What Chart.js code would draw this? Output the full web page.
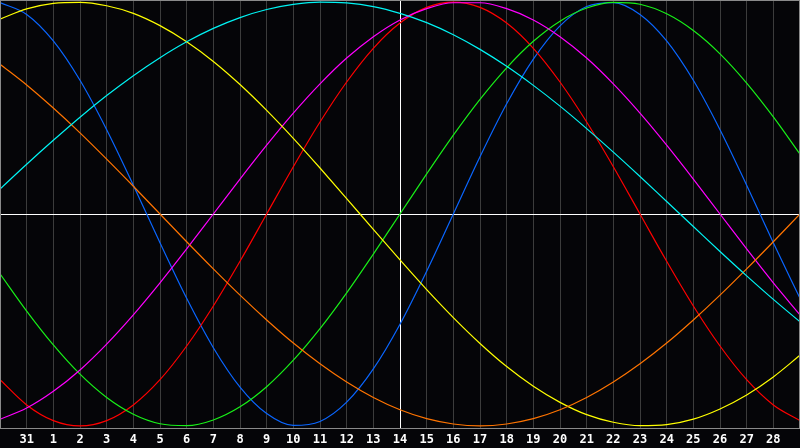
<!DOCTYPE html>
<html>
<head>
<meta charset="utf-8">
<script src="https://cdn.jsdelivr.net/npm/chart.js@4/dist/chart.umd.min.js"></script>
<style>
  html, body { margin: 0; padding: 0; background: #050508; }
  #wrap { width: 800px; height: 448px; position: relative; }
</style>
</head>
<body>
<div id="wrap"><canvas id="bioChart"></canvas></div>
<script>
// day labels along the bottom (first and last are the chart edges, not printed)
const days = ['30', '31', '1', '2', '3', '4', '5', '6', '7', '8', '9', '10', '11', '12', '13', '14',
  '15', '16', '17', '18', '19', '20', '21', '22', '23', '24', '25', '26', '27', '28', '29'];
const todayIndex = 15; // the "14" line

// curve values, one per day, -1 .. 1
const physical = [0.998, 0.942, 0.817, 0.631, 0.398, 0.136, -0.136, -0.398, -0.631, -0.817, -0.942, -0.998, -0.979, -0.888,
  -0.731, -0.520, -0.270, 0, 0.270, 0.520, 0.731, 0.888, 0.979, 0.998, 0.942, 0.817, 0.631, 0.398, 0.136, -0.136, -0.398];
const emotional = [-0.782, -0.901, -0.975, -1, -0.975, -0.901, -0.782, -0.623, -0.434, -0.223, 0, 0.223, 0.434, 0.623,
  0.782, 0.901, 0.975, 1, 0.975, 0.901, 0.782, 0.623, 0.434, 0.223, 0, -0.223, -0.434, -0.623, -0.782, -0.901, -0.975];
const intellectual = [-0.282, -0.458, -0.618, -0.756, -0.866, -0.945, -0.990, -0.999, -0.972, -0.910, -0.815, -0.690, -0.541,
  -0.372, -0.189, 0, 0.189, 0.372, 0.541, 0.690, 0.815, 0.910, 0.972, 0.999, 0.990, 0.945, 0.866, 0.756, 0.618, 0.458, 0.282];
const intuitive = [-0.969, -0.916, -0.837, -0.736, -0.614, -0.476, -0.325, -0.165, 0, 0.165, 0.325, 0.476, 0.614, 0.736,
  0.837, 0.916, 0.969, 0.997, 0.997, 0.969, 0.916, 0.837, 0.736, 0.614, 0.476, 0.325, 0.165, 0, -0.165, -0.325, -0.476];
const aesthetic = [0.920, 0.968, 0.994, 0.999, 0.983, 0.947, 0.889, 0.813, 0.720, 0.611, 0.489, 0.357, 0.217, 0.073,
  -0.073, -0.217, -0.357, -0.489, -0.611, -0.720, -0.813, -0.889, -0.947, -0.983, -0.999, -0.994, -0.968, -0.920, -0.854, -0.769, -0.667];
const awareness = [0.707, 0.609, 0.5, 0.383, 0.259, 0.131, 0, -0.131, -0.259, -0.383, -0.5, -0.609, -0.707, -0.793,
  -0.866, -0.924, -0.966, -0.991, -1, -0.991, -0.966, -0.924, -0.866, -0.793, -0.707, -0.609, -0.5, -0.383, -0.259, -0.131, 0];
const spiritual = [0.118, 0.235, 0.348, 0.457, 0.559, 0.653, 0.738, 0.813, 0.876, 0.927, 0.965, 0.989, 1.000, 0.996,
  0.979, 0.947, 0.903, 0.846, 0.777, 0.697, 0.607, 0.509, 0.403, 0.292, 0.177, 0.059, -0.059, -0.177, -0.292, -0.403, -0.509];

const series = [
  { label: 'Spiritual', data: spiritual, color: '#00f4f4' },
  { label: 'Awareness', data: awareness, color: '#ff7400' },
  { label: 'Aesthetic', data: aesthetic, color: '#ffff00' },
  { label: 'Intuitive', data: intuitive, color: '#ff00ff' },
  { label: 'Intellectual', data: intellectual, color: '#18f018' },
  { label: 'Emotional', data: emotional, color: '#ff0000' },
  { label: 'Physical', data: physical, color: '#0a66ff' }
];

// grey frame round the plot
const frame = {
  id: 'frame',
  afterDraw(chart) {
    const { ctx, chartArea: a } = chart;
    ctx.save();
    ctx.strokeStyle = '#8a8a8a';
    ctx.lineWidth = 1;
    ctx.strokeRect(a.left + 0.5, a.top + 0.5, a.right - a.left - 1, a.bottom - a.top);
    ctx.restore();
  }
};

new Chart(document.getElementById('bioChart'), {
  type: 'line',
  data: {
    labels: days,
    datasets: series.map(s => ({
      label: s.label,
      data: s.data,
      borderColor: s.color,
      borderWidth: 1.2,
      pointRadius: 0,
      pointHoverRadius: 0,
      cubicInterpolationMode: 'monotone',
      fill: false
    }))
  },
  options: {
    responsive: true,
    maintainAspectRatio: false,
    animation: false,
    layout: { padding: 0, autoPadding: false },
    plugins: { legend: { display: false }, tooltip: { enabled: false } },
    scales: {
      x: {
        afterFit(scale) {
          scale.height = 20;
          scale.paddingLeft = 0;   // the plot runs edge to edge
          scale.paddingRight = 0;
        },
        border: { display: false },
        grid: {
          drawTicks: false,
          color: c => (c.index === todayIndex ? '#ffffff' : (c.index === 0 || c.index === days.length - 1) ? 'transparent' : '#3c3c3c'),
          lineWidth: 1
        },
        ticks: {
          autoSkip: false,
          maxRotation: 0,
          padding: 5,
          color: '#ffffff',
          font: { family: 'DejaVu Sans Mono', weight: 'bold', size: 12 },
          callback: (v, i) => (i === 0 || i === days.length - 1) ? '' : days[i]
        }
      },
      y: {
        min: -1.01,
        max: 1.01,
        afterFit(scale) { scale.width = 0; },
        afterBuildTicks(scale) { scale.ticks = [{ value: 0 }]; },
        border: { display: false },
        grid: { drawTicks: false, color: '#ffffff', lineWidth: 1 },
        ticks: { display: false }
      }
    }
  },
  plugins: [frame]
});
</script>
</body>
</html>
